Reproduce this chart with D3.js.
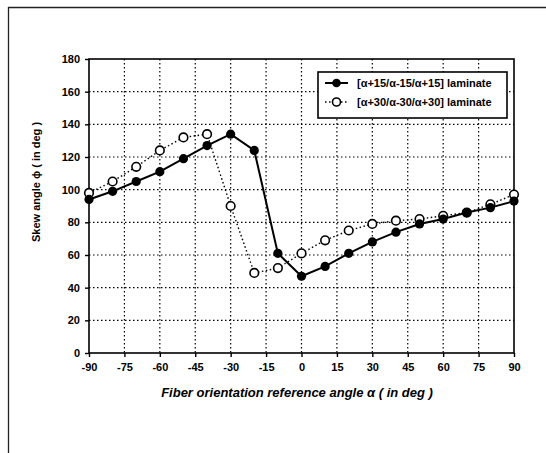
<!DOCTYPE html>
<html><head><meta charset="utf-8">
<script src="https://cdn.jsdelivr.net/npm/d3@7"></script>
<style>body{margin:0;background:#fff}svg{display:block}text{font-family:"Liberation Sans",Arial,sans-serif;font-weight:bold;fill:#000}</style>
</head><body><svg id="c" width="546" height="453"></svg>
<script>
const alphas = [-90,-80,-70,-60,-50,-40,-30,-20,-10,0,10,20,30,40,50,60,70,80,90];
const series15 = [94,99,105,111,119,127,134,124,61,47,53,61,68,74,79,82,86,89,93];
const series30 = [98,105,114,124,132,134,90,49,52,61,69,75,79,81,82,84,86,91,97];
const seriesNames = ["[\u03b1+15/\u03b1-15/\u03b1+15] laminate","[\u03b1+30/\u03b1-30/\u03b1+30] laminate"];
const xTicks = [-90,-75,-60,-45,-30,-15,0,15,30,45,60,75,90];
const yTicks = [0,20,40,60,80,100,120,140,160,180];

const svg = d3.select("#c");
const L=89, R=514, T=59, B=353;
const x = d3.scaleLinear().domain([-90,90]).range([L,R]);
const y = d3.scaleLinear().domain([0,180]).range([B,T]);

// outer frame (scan)
svg.append("path").attr("d","M8.5,453 L8.5,7.5 L546,7.5").attr("fill","none").attr("stroke","#222").attr("stroke-width",1.3);

// grid
const g = svg.append("g");
g.selectAll(".vg").data(xTicks.slice(1,-1)).enter().append("line")
 .attr("x1",d=>x(d)).attr("x2",d=>x(d)).attr("y1",T).attr("y2",B)
 .attr("stroke","#000").attr("stroke-width",1.2).attr("stroke-dasharray","1.5,2.5");
g.selectAll(".hg").data(yTicks.slice(1,-1)).enter().append("line")
 .attr("y1",d=>y(d)).attr("y2",d=>y(d)).attr("x1",L).attr("x2",R)
 .attr("stroke","#000").attr("stroke-width",1.2).attr("stroke-dasharray","1.5,2.5");

// plot border
svg.append("rect").attr("x",L).attr("y",T).attr("width",R-L).attr("height",B-T)
 .attr("fill","none").attr("stroke","#000").attr("stroke-width",1.6);

// axes
const fmt = d=>String(d);
const xa = svg.append("g").attr("transform",`translate(0,${B})`)
 .call(d3.axisBottom(x).tickValues(xTicks).tickSize(4).tickPadding(6).tickFormat(fmt));
const ya = svg.append("g").attr("transform",`translate(${L},0)`)
 .call(d3.axisLeft(y).tickValues(yTicks).tickSize(4).tickPadding(5).tickFormat(fmt));
[xa,ya].forEach(a=>{a.select(".domain").remove();a.selectAll("line").attr("stroke","#000").attr("stroke-width",1.4);
 a.selectAll("text").style("font-size","11px").style("font-family","'Liberation Sans',Arial,sans-serif").style("font-weight","bold");});

// lines
const line = d3.line().x((d,i)=>x(alphas[i])).y(d=>y(d));
svg.append("path").datum(series30).attr("d",line).attr("fill","none").attr("stroke","#000").attr("stroke-width",1.4).attr("stroke-dasharray","1.5,2.5");
svg.append("path").datum(series15).attr("d",line).attr("fill","none").attr("stroke","#000").attr("stroke-width",2);

svg.append("g").selectAll("circle").data(series30).enter().append("circle")
 .attr("cx",(d,i)=>x(alphas[i])).attr("cy",d=>y(d)).attr("r",4.3).attr("fill","#fff").attr("stroke","#000").attr("stroke-width",1.6);
svg.append("g").selectAll("circle").data(series15).enter().append("circle")
 .attr("cx",(d,i)=>x(alphas[i])).attr("cy",d=>y(d)).attr("r",4.6).attr("fill","#000");

// legend
const lg = svg.append("g");
lg.append("rect").attr("x",318).attr("y",72).attr("width",189).attr("height",46).attr("fill","#fff").attr("stroke","#000").attr("stroke-width",1.6);
const rows=[83,102];
lg.append("line").attr("x1",325).attr("x2",348).attr("y1",rows[0]).attr("y2",rows[0]).attr("stroke","#000").attr("stroke-width",2);
lg.append("circle").attr("cx",336.5).attr("cy",rows[0]).attr("r",4.3).attr("fill","#000");
lg.append("line").attr("x1",325).attr("x2",348).attr("y1",rows[1]).attr("y2",rows[1]).attr("stroke","#000").attr("stroke-width",1.4).attr("stroke-dasharray","1.5,2.5");
lg.append("circle").attr("cx",336.5).attr("cy",rows[1]).attr("r",4).attr("fill","#fff").attr("stroke","#000").attr("stroke-width",1.6);
seriesNames.forEach((n,i)=>lg.append("text").attr("x",357).attr("y",rows[i]+4).style("font-size","11px").text(n));

// titles
svg.append("text").attr("x",297).attr("y",397).attr("text-anchor","middle").style("font-size","13px").style("font-style","italic").text("Fiber orientation reference angle \u03b1 ( in deg )");
svg.append("text").attr("transform","translate(40,182) rotate(-90)").attr("text-anchor","middle").style("font-size","11px").text("Skew angle \u03d5 ( in deg )");
</script></body></html>
